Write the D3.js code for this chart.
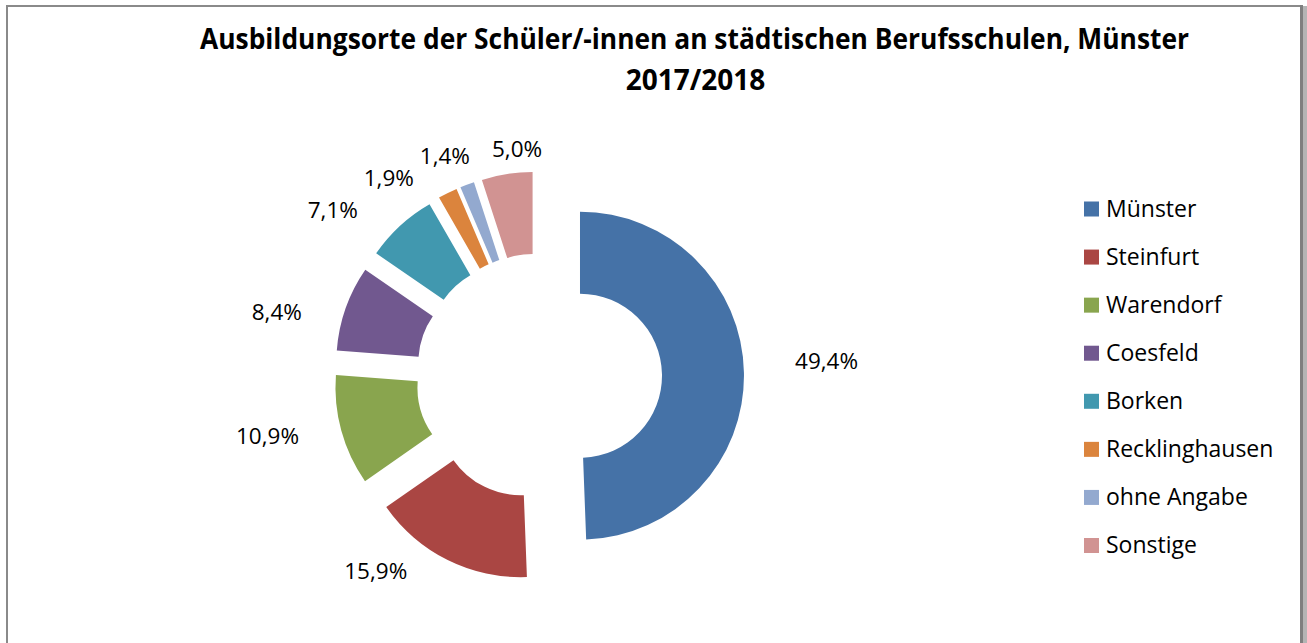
<!DOCTYPE html>
<html>
<head>
<meta charset="utf-8">
<script src="https://cdn.jsdelivr.net/npm/d3@7"></script>
<style>
  html, body { margin: 0; padding: 0; background: #fff; }
  svg { display: block; }
</style>
</head>
<body>
<svg id="chart" width="1307" height="643"></svg>
<script>
// ---- data ----
const categories = ["Münster", "Steinfurt", "Warendorf", "Coesfeld", "Borken", "Recklinghausen", "ohne Angabe", "Sonstige"];
const shares = [49.4, 15.9, 10.9, 8.4, 7.1, 1.9, 1.4, 5.0];
const colors = ["#4572A7", "#AA4643", "#89A54E", "#71588F", "#4198AF", "#DB843D", "#93A9CF", "#D19392"];
const titleLines = ["Ausbildungsorte der Schüler/-innen an städtischen Berufsschulen, Münster", "2017/2018"];

// ---- layout (not data) ----
const W = 1307, H = 643;
const cx = 539, cy = 376.5;
const outerR = 164, innerR = 82, explode = 41;
// label placement: polar [angle in degrees from top, radius] around the pie centre
const labelPolar = [[86.9, 288], [220.0, 254], [257.6, 278], [283.8, 270], [308.9, 265], [322.9, 249], [336.9, 240], [354.5, 229]];

const svg = d3.select("#chart");

// frame
svg.append("rect").attr("x", 0).attr("y", 0).attr("width", W).attr("height", H).attr("fill", "#fff");
svg.append("rect").attr("x", 1302).attr("y", 6).attr("width", 5).attr("height", H).attr("fill", "#b4b4b4");
svg.append("rect").attr("x", 7).attr("y", 6).attr("width", 1294.5).attr("height", H + 20)
  .attr("fill", "none").attr("stroke", "#8a8a8a").attr("stroke-width", 2);
svg.append("rect").attr("x", 1300).attr("y", 5).attr("width", 3).attr("height", H).attr("fill", "#7f7f7f");

// title
const title = svg.append("g").attr("font-family", "'Open Sans', sans-serif").attr("font-weight", "bold")
  .attr("font-size", 28).attr("fill", "#000").attr("text-anchor", "middle");
title.append("text").attr("x", 694.5).attr("y", 49.3).attr("textLength", 989).attr("lengthAdjust", "spacingAndGlyphs").text(titleLines[0]);
title.append("text").attr("x", 695.5).attr("y", 90).text(titleLines[1]);

// doughnut
const pie = d3.pie().sort(null).value(d => d)(shares);
const arc = d3.arc().innerRadius(innerR).outerRadius(outerR);
const g = svg.append("g").attr("transform", `translate(${cx},${cy})`);
g.selectAll("path.slice").data(pie).join("path")
  .attr("class", "slice")
  .attr("fill", (d, i) => colors[i])
  .attr("transform", d => {
    const a = (d.startAngle + d.endAngle) / 2;
    return `translate(${explode * Math.sin(a)},${-explode * Math.cos(a)})`;
  })
  .attr("d", arc);

// labels
const fmt = v => v.toFixed(1).replace(".", ",") + "%";
g.selectAll("text.lbl").data(pie).join("text")
  .attr("class", "lbl")
  .attr("font-family", "'Open Sans', sans-serif").attr("font-size", 22.5).attr("fill", "#000")
  .attr("text-anchor", "middle")
  .attr("x", (d, i) => labelPolar[i][1] * Math.sin(labelPolar[i][0] * Math.PI / 180))
  .attr("y", (d, i) => -labelPolar[i][1] * Math.cos(labelPolar[i][0] * Math.PI / 180) + 8)
  .text(d => fmt(d.data));

// legend
const legendY = d3.scalePoint().domain(categories).range([209, 545.5]);
const lg = svg.append("g");
const items = lg.selectAll("g").data(categories).join("g")
  .attr("transform", d => `translate(1084,${legendY(d)})`);
items.append("rect").attr("x", 0).attr("y", -7.5).attr("width", 15).attr("height", 15)
  .attr("fill", (d, i) => colors[i]);
items.append("text").attr("x", 22).attr("y", 7.5)
  .attr("font-family", "'Open Sans', sans-serif").attr("font-size", 23).attr("fill", "#000")
  .text(d => d);
</script>
</body>
</html>
